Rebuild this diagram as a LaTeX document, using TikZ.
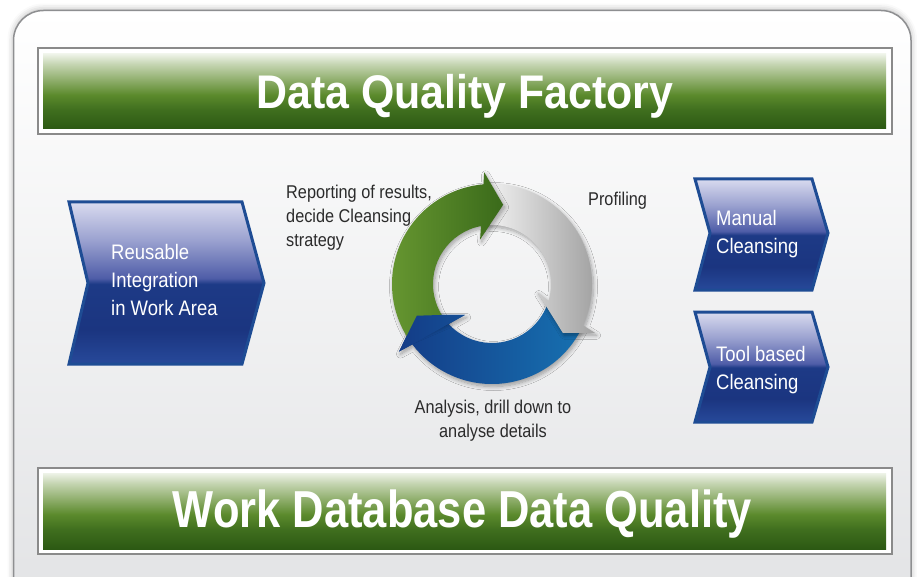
\documentclass[tikz,border=0pt]{standalone}
\usepackage{fontspec}
\usepackage{graphicx}
\setmainfont{Liberation Sans}
\newfontfamily\narrowfont[FakeStretch=0.88]{Liberation Sans}
\usetikzlibrary{shadows.blur}

\definecolor{frameline}{HTML}{8E8F91}
\definecolor{framebottom}{HTML}{E2E3E5}
\definecolor{bannerline}{HTML}{8A8A8A}
\definecolor{bgA}{HTML}{2C5913}
\definecolor{bgB}{HTML}{3F6E1E}
\definecolor{bgC}{HTML}{5B8A2C}
\definecolor{bgD}{HTML}{8FAE6C}
\definecolor{bgE}{HTML}{C5D5B2}
\definecolor{bgF}{HTML}{EEF3E8}
\definecolor{chevronline}{HTML}{1E4C94}
\definecolor{chevA}{HTML}{D9DBEF}
\definecolor{chevB}{HTML}{9BA2D0}
\definecolor{chevC}{HTML}{4F5DA8}
\definecolor{chevD}{HTML}{1D3A86}
\definecolor{chevE}{HTML}{1B3580}
\definecolor{chevF}{HTML}{27499A}
\definecolor{ringgreenL}{HTML}{6B9B33}
\definecolor{ringgreenR}{HTML}{3A6A1A}
\definecolor{ringgrayL}{HTML}{F6F6F6}
\definecolor{ringgrayR}{HTML}{A2A2A2}
\definecolor{ringblueL}{HTML}{143C87}
\definecolor{ringblueR}{HTML}{1670B0}
\definecolor{labelgray}{HTML}{2B2B2B}

\pgfdeclareverticalshading{bannergreen}{100bp}{color(0bp)=(bgA); color(25bp)=(bgA);
  color(37.7bp)=(bgB); color(47.7bp)=(bgC); color(57.7bp)=(bgD); color(68.3bp)=(bgE);
  color(75bp)=(bgF); color(100bp)=(bgF)}
\pgfdeclareverticalshading{chevronblue}{100bp}{color(0bp)=(chevF); color(25bp)=(chevF);
  color(35.5bp)=(chevE); color(49.7bp)=(chevD); color(51.5bp)=(chevC); color(63.3bp)=(chevB);
  color(75bp)=(chevA); color(100bp)=(chevA)}

\tikzset{
  frame/.style={draw=frameline, line width=1.5pt, rounded corners=30pt,
    top color=white, bottom color=framebottom,
    blur shadow={shadow xshift=0pt, shadow yshift=1pt, shadow blur radius=6pt, shadow opacity=30}},
  bannerframe/.style={draw=bannerline, line width=1.5pt, fill=white},
  banner/.style={shade, shading=bannergreen},
  bannertext/.style={text=white, inner sep=0pt, anchor=base, font=\bfseries},
  chevron/.style={shade, shading=chevronblue, draw=chevronline, line width=3pt},
  chevtext/.style={text=white, inner sep=0pt, anchor=north west, align=left,
    font=\narrowfont\fontsize{21}{28}\selectfont},
  cyclelabel/.style={text=labelgray, inner sep=0pt, font=\narrowfont\fontsize{18.5}{24}\selectfont},
  ringshadow/.style={blur shadow={shadow xshift=1.5pt, shadow yshift=-2.5pt,
    shadow blur steps=8, shadow blur radius=4pt, shadow opacity=35}},
  greenarrow/.style={ringshadow, left color=ringgreenL, right color=ringgreenR},
  grayarrow/.style={ringshadow, left color=ringgrayL, right color=ringgrayR},
  bluearrow/.style={ringshadow, left color=ringblueL, right color=ringblueR},
}

\begin{document}
\begin{tikzpicture}[x=1pt, y=-1pt]
  \useasboundingbox (0,0) rectangle (917,577);
  \clip (0,0) rectangle (917,577);

  % outer panel
  \path[frame] (13.5,10.5) rectangle (911,610);

  % title banners
  \draw[bannerframe] (38,48) rectangle (892,134);
  \path[banner] (43,54) rectangle (886,129);
  \node[bannertext] (factory) at (465,108.5) {\resizebox{417pt}{34.2pt}{Data Quality Factory}};

  \draw[bannerframe] (38,468) rectangle (892,554);
  \path[banner] (43,473) rectangle (886,549);
  \node[bannertext] (workdb) at (462.5,527) {\resizebox{579pt}{37.7pt}{Work Database Data Quality}};

  % chevrons
  \draw[chevron] (69,202) -- (242,202) -- (264,283) -- (242,364) -- (69,364) -- (88,283) -- cycle;
  \node[chevtext] (reuse) at (111,243.7) {Reusable\\Integration\\in Work Area};

  \draw[chevron] (695,179) -- (812,179) -- (828,233) -- (812,290) -- (695,290) -- (710,233) -- cycle;
  \node[chevtext] (manual) at (716,209.7) {Manual\\Cleansing};

  \draw[chevron] (695,312) -- (812,312) -- (828,367) -- (812,422) -- (695,422) -- (710,367) -- cycle;
  \node[chevtext] (toolbased) at (716,345.7) {Tool based\\Cleansing};

  % cycle of three arrows
  \begin{scope}[shift={(492,284)}, x=1pt, y=1pt]
    \def\bluepath{(-27:100) arc[start angle=-27, end angle=-142.8, radius=100]
      -- (-144:115) -- (-157.5:81) -- (-131:41) -- (-137.2:59)
      arc[start angle=-137.2, end angle=-20, radius=59] -- cycle}
    \path[bluearrow] \bluepath;
    \path[grayarrow] (96:100) arc[start angle=96, end angle=-24.4, radius=100]
      -- (-25.4:114) -- (-34.6:86) -- (-10:46) -- (-16.5:59)
      arc[start angle=-16.5, end angle=97, radius=59] -- cycle;
    \path[greenarrow] (213:100) arc[start angle=213, end angle=94.9, radius=100]
      -- (94:112) -- (82:80) -- (105:46) -- (100.8:59)
      arc[start angle=100.8, end angle=220, radius=59] -- cycle;
    \begin{scope}
      \clip (-144:116) -- (-157.5:83) -- (-131:40) -- cycle;
      \path[left color=ringblueL, right color=ringblueR] \bluepath;
    \end{scope}
  \end{scope}

  % cycle labels
  \node[cyclelabel, anchor=north west, align=left] (reporting) at (286,184.5)
    {Reporting of results,\\decide Cleansing\\strategy};
  \node[cyclelabel, anchor=base west] (profiling) at (588,206) {Profiling};
  \node[cyclelabel, anchor=north, align=center] (analysis) at (493,399.5)
    {Analysis, drill down to\\analyse details};
\end{tikzpicture}
\end{document}
